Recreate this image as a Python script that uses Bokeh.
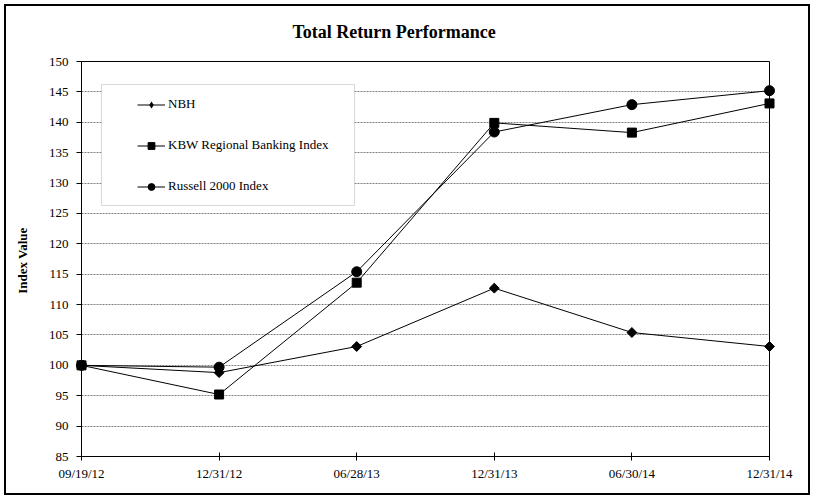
import math
from bokeh.plotting import figure
from bokeh.models import FixedTicker, Legend, LegendItem, BoxAnnotation, InlineStyleSheet
from bokeh.embed import file_html
from bokeh.resources import INLINE

# ---- data ----
dates = ["09/19/12", "12/31/12", "06/28/13", "12/31/13", "06/30/14", "12/31/14"]
nbh = [100, 98.8, 103.1, 112.7, 105.4, 103.1]
kbw = [100, 95.2, 113.6, 139.9, 138.3, 143.1]
russell = [100, 99.7, 115.4, 138.4, 142.9, 145.2]
y_ticks = list(range(85, 151, 5))
series_names = ["NBH", "KBW Regional Banking Index", "Russell 2000 Index"]
title_text = "Total Return Performance"

x_idx = list(range(len(dates)))
FONT = "Liberation Serif"

p = figure(width=798, height=491,
           x_range=(x_idx[0], x_idx[-1]), y_range=(y_ticks[0], y_ticks[-1]),
           output_backend="svg", toolbar_location=None,
           min_border_left=73, min_border_right=37,
           min_border_top=61, min_border_bottom=35,
           title=title_text)

p.margin = (0, 0, 0, 8)
p.stylesheets = [InlineStyleSheet(css="""
:host { position: relative; }
:host::after {
  content: "";
  position: absolute;
  top: 4px; left: -4px; right: -4px; bottom: -4px;
  border: 2px solid black;
  box-sizing: border-box;
  pointer-events: none;
  z-index: 100;
}
""")]

p.title.align = "left"
p.title.offset = 211
p.title.vertical_align = "top"
p.title.standoff = 35
p.title.text_font = FONT
p.title.text_font_size = "18px"
p.title.text_font_style = "bold"
p.title.text_color = "black"

p.outline_line_color = "black"
p.outline_line_width = 1
p.outline_line_alpha = 1
p.background_fill_color = "white"
p.border_fill_color = "white"

# axes
p.xaxis.ticker = FixedTicker(ticks=x_idx)
p.xaxis.major_label_overrides = {i: d for i, d in enumerate(dates)}
p.yaxis.ticker = FixedTicker(ticks=y_ticks)
for ax in (p.xaxis[0], p.yaxis[0]):
    ax.axis_line_color = "black"
    ax.major_tick_line_color = "black"
    ax.minor_tick_line_color = None
    ax.major_label_text_font = FONT
    ax.major_label_text_font_size = "13px"
    ax.major_label_text_color = "black"
p.xaxis.major_tick_in = 4
p.xaxis.major_tick_out = 4
p.xaxis.major_label_standoff = 5
p.yaxis.major_tick_in = 0
p.yaxis.major_tick_out = 5
p.yaxis.major_label_standoff = 8
p.yaxis.axis_label = "Index  Value"
p.yaxis.axis_label_text_font = FONT
p.yaxis.axis_label_text_font_size = "13px"
p.yaxis.axis_label_text_font_style = "bold"
p.yaxis.axis_label_text_color = "black"
p.yaxis.axis_label_standoff = 16

p.xgrid.visible = False
p.ygrid.grid_line_color = "#808080"
p.ygrid.grid_line_dash = "2 1"
p.ygrid.grid_line_width = 1

# series
l1 = p.line(x_idx, nbh, line_color="black", line_width=1)
s1 = p.scatter(x_idx, nbh, marker="square", angle=math.pi / 4, size=7,
               fill_color="black", line_color="black", level="overlay")
# diamond symbol used for the legend entry (zero size on the plot)
d1 = p.scatter(x_idx, nbh, marker="diamond", size=0,
               fill_color="black", line_color=None)
l2 = p.line(x_idx, kbw, line_color="black", line_width=1)
s2 = p.scatter(x_idx, kbw, marker="square", size=9,
               fill_color="black", line_color="black", level="overlay")
l3 = p.line(x_idx, russell, line_color="black", line_width=1)
s3 = p.scatter(x_idx, russell, marker="circle", size=10,
               fill_color="black", line_color="black", level="overlay")

# legend box
box = BoxAnnotation(left=20, right=273, bottom=251, top=372,
                    left_units="screen", right_units="screen",
                    top_units="screen", bottom_units="screen",
                    fill_color="white", fill_alpha=1,
                    line_color="#808080", line_width=1)
p.add_layout(box)

legend = Legend(items=[LegendItem(label=series_names[0], renderers=[l1, d1]),
                       LegendItem(label=series_names[1], renderers=[l2, s2]),
                       LegendItem(label=series_names[2], renderers=[l3, s3])],
                location=(46, 250), padding=10, spacing=21, margin=0,
                glyph_width=28, glyph_height=17, label_height=20,
                label_standoff=3, label_text_font=FONT,
                label_text_font_size="13px", label_text_color="black",
                background_fill_alpha=0, border_line_alpha=0)
p.add_layout(legend)

open("out.html", "w").write(file_html(p, INLINE))
